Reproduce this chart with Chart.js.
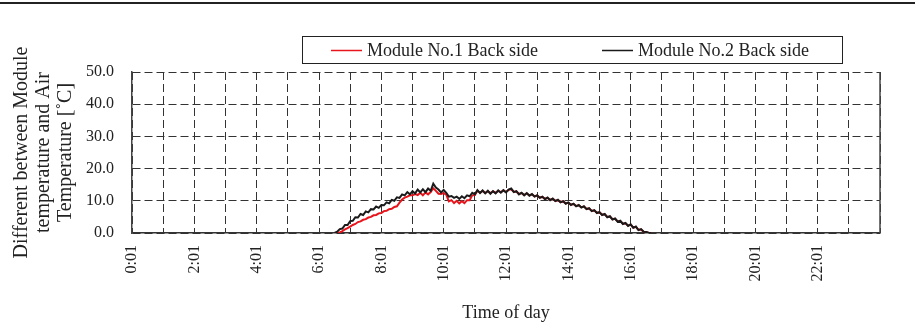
<!DOCTYPE html>
<html>
<head>
<meta charset="utf-8">
<script src="https://cdn.jsdelivr.net/npm/chart.js@4.4.1/dist/chart.umd.min.js"></script>
<style>
  html, body { margin: 0; padding: 0; background: #fff; }
  #wrap { width: 915px; height: 334px; }
</style>
</head>
<body>
<div id="wrap"><canvas id="tempChart" width="915" height="334"></canvas></div>
<script>
// Sample times (every 5 min) for the daylight part of the record
const times = [
  '6:30','6:35','6:40','6:45','6:50','6:55',
  '7:00','7:05','7:10','7:15','7:20','7:25','7:30','7:35','7:40','7:45','7:50','7:55',
  '8:00','8:05','8:10','8:15','8:20','8:25','8:30','8:35','8:40','8:45','8:50','8:55',
  '9:00','9:05','9:10','9:15','9:20','9:25','9:30','9:35','9:40','9:45','9:50','9:55',
  '10:00','10:05','10:10','10:15','10:20','10:25','10:30','10:35','10:40','10:45','10:50','10:55',
  '11:00','11:05','11:10','11:15','11:20','11:25','11:30','11:35','11:40','11:45','11:50','11:55',
  '12:00','12:05','12:10','12:15','12:20','12:25','12:30','12:35','12:40','12:45','12:50','12:55',
  '13:00','13:05','13:10','13:15','13:20','13:25','13:30','13:35','13:40','13:45','13:50','13:55',
  '14:00','14:05','14:10','14:15','14:20','14:25','14:30','14:35','14:40','14:45','14:50','14:55',
  '15:00','15:05','15:10','15:15','15:20','15:25','15:30','15:35','15:40','15:45','15:50','15:55',
  '16:00','16:05','16:10','16:15','16:20','16:25','16:30','16:35','16:40'
];

// Module No.1 back side - air temperature difference
const module1 = [
  0.0, 0.0, 0.2, 0.6, 1.1, 1.5,
  2.0, 2.5, 2.8, 3.4, 3.6, 4.1, 4.3, 4.8, 5.0, 5.5, 5.6, 6.1,
  6.2, 6.8, 6.9, 7.4, 7.5, 8.1, 8.3, 9.4, 10.4, 11.0, 11.3, 11.7,
  11.7, 12.1, 11.8, 12.5, 11.7, 12.6, 12.0, 12.7, 13.9, 13.1, 12.2, 12.1,
  12.4, 11.9, 9.8, 10.2, 9.3, 10.0, 9.2, 9.9, 9.3, 10.2, 10.2, 11.7,
  11.8, 13.1, 12.5, 13.1, 12.4, 13.0, 12.4, 12.9, 12.5, 13.1, 12.7, 13.2,
  12.8, 13.4, 13.6, 12.8, 12.9, 12.1, 12.4, 11.8, 12.3, 11.7, 12.0, 11.4,
  11.6, 11.0, 11.2, 10.6, 10.9, 10.3, 10.6, 10.0, 10.2, 9.6, 9.8, 9.2,
  9.4, 8.8, 9.0, 8.4, 8.6, 8.0, 8.2, 7.5, 7.6, 6.9, 7.0, 6.3,
  6.4, 5.7, 5.8, 5.0, 5.1, 4.3, 4.4, 3.6, 3.7, 2.9, 3.0, 2.3,
  2.6, 1.7, 1.9, 1.0, 1.1, 0.4, 0.3, 0.0, 0.0
];

// Module No.2 back side - air temperature difference
const module2 = [
  0.0, 0.4, 1.2, 1.4, 2.5, 2.5,
  3.7, 3.8, 4.9, 4.8, 5.9, 5.6, 6.7, 6.4, 7.4, 7.3, 8.2, 7.8,
  8.7, 8.6, 9.5, 9.2, 10.3, 10.0, 11.1, 10.9, 12.0, 11.7, 12.7, 12.0,
  13.0, 12.3, 13.5, 12.6, 13.6, 12.7, 13.8, 13.1, 15.3, 14.1, 13.5, 12.6,
  13.4, 12.5, 11.3, 11.5, 10.9, 11.3, 10.6, 11.4, 10.8, 11.7, 11.4, 12.5,
  12.0, 13.3, 12.4, 13.2, 12.3, 13.1, 12.2, 13.0, 12.3, 13.2, 12.5, 13.3,
  12.6, 13.5, 13.8, 12.7, 13.0, 12.0, 12.5, 11.7, 12.4, 11.6, 12.1, 11.3,
  11.7, 10.9, 11.3, 10.5, 11.0, 10.2, 10.7, 9.9, 10.3, 9.5, 9.9, 9.1,
  9.5, 8.7, 9.1, 8.3, 8.7, 7.9, 8.3, 7.4, 7.7, 6.8, 7.1, 6.2,
  6.5, 5.6, 5.9, 4.9, 5.2, 4.2, 4.5, 3.5, 3.8, 2.8, 3.1, 2.2,
  2.7, 1.6, 2.0, 0.9, 1.2, 0.4, 0.3, 0.0, 0.0
];

const xTickLabels = ['0:01','2:01','4:01','6:01','8:01','10:01','12:01','14:01','16:01','18:01','20:01','22:01'];
const yTitleLines = ['Different between Module', 'temperature and Air', 'Temperature [\u02DAC]'];

const FONT = '"Liberation Serif", "Times New Roman", serif';
const INK = '#222';

// "H:MM" -> hours as a number
function toHours(t) {
  const p = t.split(':');
  return Number(p[0]) + Number(p[1]) / 60;
}

function toPoints(vals) {
  return times.map((t, i) => ({ x: toHours(t), y: vals[i] }));
}

// Paper background, rule at the top, framed legend and right edge of the plot
const decorations = {
  id: 'decorations',
  beforeDraw(chart) {
    const ctx = chart.ctx;
    ctx.save();
    ctx.fillStyle = '#fff';
    ctx.fillRect(0, 0, chart.width, chart.height);
    ctx.fillStyle = INK;
    ctx.fillRect(0, 2, chart.width, 2);
    ctx.restore();
  },
  afterDraw(chart) {
    const ctx = chart.ctx;
    const area = chart.chartArea;
    ctx.save();
    // right edge of the plot area
    ctx.strokeStyle = '#444';
    ctx.lineWidth = 1.5;
    ctx.beginPath();
    ctx.moveTo(area.right, area.top);
    ctx.lineTo(area.right, area.bottom);
    ctx.stroke();

    // legend box
    ctx.strokeStyle = INK;
    ctx.lineWidth = 1;
    ctx.strokeRect(302.5, 36.5, 540, 27);
    const items = [chart.data.datasets[0], chart.data.datasets[1]];
    const starts = [331, 602];
    ctx.font = '18px ' + FONT;
    ctx.fillStyle = INK;
    ctx.textBaseline = 'alphabetic';
    items.forEach((ds, i) => {
      ctx.strokeStyle = ds.borderColor;
      ctx.lineWidth = 1.5;
      ctx.beginPath();
      ctx.moveTo(starts[i], 50.5);
      ctx.lineTo(starts[i] + 31, 50.5);
      ctx.stroke();
      ctx.fillText(ds.label, starts[i] + 36, 56);
    });
    ctx.restore();
  }
};

document.addEventListener('DOMContentLoaded', function() {
  const ctx = document.getElementById('tempChart').getContext('2d');
  new Chart(ctx, {
    type: 'line',
    data: {
      datasets: [
        {
          label: 'Module No.1 Back side',
          data: toPoints(module1),
          borderColor: '#e8141c',
          borderWidth: 2,
          pointRadius: 0,
          tension: 0,
          order: 1
        },
        {
          label: 'Module No.2 Back side',
          data: toPoints(module2),
          borderColor: '#1a1a1a',
          borderWidth: 2,
          pointRadius: 0,
          tension: 0,
          order: 0
        }
      ]
    },
    options: {
      responsive: false,
      animation: false,
      layout: { padding: { top: 72, right: 35, left: 0, bottom: 0 } },
      plugins: {
        legend: { display: false },
        tooltip: { enabled: false }
      },
      scales: {
        x: {
          type: 'linear',
          min: 0,
          max: 24,
          afterFit(scale) { scale.height = 101; },
          ticks: {
            stepSize: 1,
            autoSkip: false,
            minRotation: 90,
            maxRotation: 90,
            padding: 12,
            color: INK,
            font: { family: FONT, size: 16 },
            callback: (v) => (v % 2 === 0 && v < 24) ? xTickLabels[v / 2] : ''
          },
          grid: { color: '#333', lineWidth: 1, drawTicks: false },
          border: { color: '#333', width: 1.5, dash: [8, 4] },
          title: {
            display: true,
            text: 'Time of day',
            color: INK,
            font: { family: FONT, size: 18 },
            padding: { bottom: 10, top: 0 }
          }
        },
        y: {
          min: 0,
          max: 50,
          afterFit(scale) { scale.width = 132; },
          ticks: {
            stepSize: 10,
            padding: 18,
            color: INK,
            font: { family: FONT, size: 16 },
            callback: (v) => v.toFixed(1)
          },
          grid: { color: '#333', lineWidth: 1, drawTicks: false },
          border: { color: '#444', width: 1.5, dash: [8, 4] },
          title: {
            display: true,
            text: yTitleLines,
            color: INK,
            font: { family: FONT, size: 20, lineHeight: 1.1 },
            padding: { top: 11, bottom: 0 }
          }
        }
      }
    },
    plugins: [decorations]
  });
});
</script>
</body>
</html>
